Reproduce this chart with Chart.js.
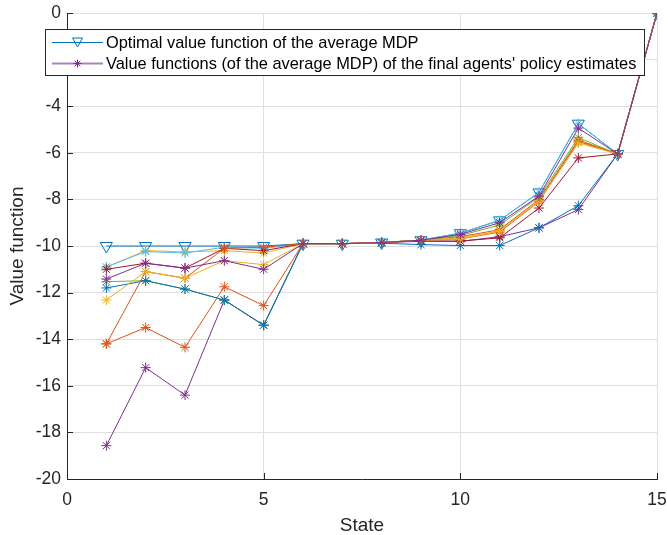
<!DOCTYPE html>
<html>
<head>
<meta charset="utf-8">
<script src="https://cdn.jsdelivr.net/npm/chart.js@4/dist/chart.umd.min.js"></script>
<style>
  html, body { margin: 0; padding: 0; background: #fff; }
</style>
</head>
<body>
<canvas id="valueChart" width="667" height="535"></canvas>
<script>
// x axis: states
const states = [1, 2, 3, 4, 5, 6, 7, 8, 9, 10, 11, 12, 13, 14, 15];

// optimal value function of the average MDP
const optimal = [-10, -10, -10, -10, -10, -9.9, -9.9, -9.85, -9.75, -9.45, -8.9, -7.7, -4.75, -6.05, 0];

// value functions of the final agents' policy estimates
const agentOrangeA = [-14.2, -13.5, -14.35, -11.75, -12.56, -9.9, -9.9, -9.85, -9.75, -9.6, -9.3, -8.0, -5.45, -6.05, 0];
const agentYellowA = [-10.9, -10.2, -10.25, -10.2, -10.3, -9.9, -9.9, -9.85, -9.75, -9.65, -9.35, -8.05, -5.55, -6.05, 0];
const agentPurpleA = [-18.57, -15.22, -16.4, -12.32, -13.4, -9.9, -9.9, -9.85, -9.8, -9.8, -9.6, -9.22, -8.44, -6.05, 0];
const agentGreen = [-11.53, -11.49, -11.85, -12.32, -13.4, -9.9, -9.9, -9.85, -9.75, -9.55, -9.1, -7.9, -5.35, -6.05, 0];
const agentLightBlue = [-10.9, -10.24, -10.3, -10.05, -10.1, -9.9, -9.9, -9.85, -9.75, -9.45, -8.9, -7.7, -4.75, -6.05, 0];
const agentDarkRed = [-11.0, -10.74, -10.95, -10.1, -10.2, -9.9, -9.9, -9.85, -9.78, -9.79, -9.65, -8.37, -6.22, -6.05, 0];
const agentBlue = [-11.8, -11.49, -11.85, -12.32, -13.4, -9.9, -9.9, -9.88, -9.94, -9.98, -9.98, -9.22, -8.27, -6.05, 0];
const agentOrangeB = [-14.2, -11.1, -11.38, -10.1, -10.05, -9.9, -9.9, -9.85, -9.75, -9.7, -9.4, -8.1, -5.5, -6.05, 0];
const agentYellowB = [-12.32, -11.1, -11.38, -10.63, -10.8, -9.9, -9.9, -9.85, -9.75, -9.7, -9.37, -8.08, -5.58, -6.05, 0];
const agentPurpleB = [-11.42, -10.74, -10.95, -10.63, -11.0, -9.9, -9.9, -9.85, -9.75, -9.5, -9.0, -7.86, -4.94, -6.05, 0];

const agents = [agentOrangeA, agentYellowA, agentPurpleA, agentGreen, agentLightBlue,
                agentDarkRed, agentBlue, agentOrangeB, agentYellowB, agentPurpleB];
const agentColors = ["#D95319", "#EDB120", "#7E2F8E", "#77AC30", "#4DBEEE",
                     "#A2142F", "#0072BD", "#D95319", "#EDB120", "#7E2F8E"];

const FONT = '"Liberation Sans", Arial, sans-serif';
const AXIS = "#262626";

function toPoints(vals) {
  return states.map((s, i) => ({ x: s, y: vals[i] }));
}

const datasets = [
  {
    label: "Optimal value function of the average MDP",
    data: toPoints(optimal),
    borderColor: "#0072BD",
    borderWidth: 1,
    pointStyle: "triangle",
    rotation: 180,
    pointRadius: 7,
    pointBorderWidth: 1,
    pointBorderColor: "#0072BD",
    pointBackgroundColor: "rgba(0,0,0,0)",
  },
];
agents.forEach((vals, i) => {
  datasets.push({
    label: "Value functions (of the average MDP) of the final agents' policy estimates",
    data: toPoints(vals),
    borderColor: agentColors[i],
    borderWidth: 1,
    pointStyle: "star",
    pointRadius: 5,
    pointBorderWidth: 1,
    pointBorderColor: agentColors[i],
    pointBackgroundColor: agentColors[i],
  });
});
// later lines on top, like the original plot
datasets.forEach((d, i) => { d.order = datasets.length - i; d.fill = false; d.tension = 0; });

// ticks pointing inwards
const innerTicks = {
  id: "innerTicks",
  beforeDatasetsDraw(chart) {
    const { ctx, chartArea, scales } = chart;
    ctx.save();
    ctx.strokeStyle = AXIS;
    ctx.lineWidth = 1;
    ctx.beginPath();
    scales.x.ticks.forEach((t) => {
      const px = Math.round(scales.x.getPixelForValue(t.value)) + 0.5;
      ctx.moveTo(px, chartArea.bottom);
      ctx.lineTo(px, chartArea.bottom - 6);
    });
    scales.y.ticks.forEach((t) => {
      const py = Math.round(scales.y.getPixelForValue(t.value)) + 0.5;
      ctx.moveTo(chartArea.left, py);
      ctx.lineTo(chartArea.left + 6, py);
    });
    ctx.stroke();
    ctx.restore();
  },
};

function drawStar(ctx, x, y, r) {
  const d = r * Math.SQRT1_2;
  ctx.beginPath();
  ctx.moveTo(x - r, y); ctx.lineTo(x + r, y);
  ctx.moveTo(x, y - r); ctx.lineTo(x, y + r);
  ctx.moveTo(x - d, y - d); ctx.lineTo(x + d, y + d);
  ctx.moveTo(x - d, y + d); ctx.lineTo(x + d, y - d);
  ctx.stroke();
}

function drawTriangleDown(ctx, x, y, w, h) {
  ctx.beginPath();
  ctx.moveTo(x - w / 2, y - h / 2);
  ctx.lineTo(x + w / 2, y - h / 2);
  ctx.lineTo(x, y + h / 2);
  ctx.closePath();
  ctx.stroke();
}

// legend box sitting inside the plot
const boxLegend = {
  id: "boxLegend",
  afterDraw(chart) {
    const ctx = chart.ctx;
    ctx.save();
    ctx.fillStyle = "#fff";
    ctx.fillRect(45.5, 29.5, 599, 46);
    ctx.strokeStyle = AXIS;
    ctx.lineWidth = 1;
    ctx.strokeRect(45.5, 29.5, 599, 46);

    // row 1
    ctx.strokeStyle = "#0072BD";
    ctx.beginPath();
    ctx.moveTo(52, 42.5); ctx.lineTo(103, 42.5);
    ctx.stroke();
    drawTriangleDown(ctx, 77.5, 42.5, 10, 9);

    // row 2
    ctx.strokeStyle = "#ad80c0";
    ctx.lineWidth = 2;
    ctx.beginPath();
    ctx.moveTo(52, 63.5); ctx.lineTo(103, 63.5);
    ctx.stroke();
    ctx.strokeStyle = "#7E2F8E";
    ctx.lineWidth = 1;
    drawStar(ctx, 77.5, 63.5, 4);

    ctx.fillStyle = "#000";
    ctx.font = "16.4px " + FONT;
    ctx.textBaseline = "middle";
    ctx.fillText(datasets[0].label, 106, 43);
    ctx.fillText(datasets[datasets.length - 1].label, 106, 64);
    ctx.restore();
  },
};

new Chart(document.getElementById("valueChart").getContext("2d"), {
  type: "line",
  data: { datasets: datasets },
  options: {
    responsive: false,
    animation: false,
    layout: { padding: { top: 13, right: 10, left: 0, bottom: 0 } },
    plugins: {
      legend: { display: false },
      tooltip: { enabled: false },
    },
    scales: {
      x: {
        type: "linear",
        min: 0,
        max: 15,
        ticks: {
          stepSize: 5,
          color: AXIS,
          padding: 11,
          maxRotation: 0,
          font: { size: 17.5, family: FONT },
        },
        grid: { color: "#dfdfdf", drawTicks: false },
        border: { color: AXIS, width: 1 },
        title: {
          display: true,
          text: "State",
          color: AXIS,
          font: { size: 19, family: FONT, lineHeight: 1 },
          padding: { top: 0, bottom: 0 },
        },
        afterFit(scale) {
          scale.height = 56;
          scale.paddingLeft = 0;
          scale.paddingRight = 0;
        },
      },
      y: {
        min: -20,
        max: 0,
        ticks: {
          stepSize: 2,
          color: AXIS,
          padding: 6,
          font: { size: 17.5, family: FONT },
        },
        grid: { color: "#dfdfdf", drawTicks: false },
        border: { color: AXIS, width: 1 },
        title: {
          display: true,
          text: "Value function",
          color: AXIS,
          font: { size: 19, family: FONT, lineHeight: 1 },
          padding: { top: 8, bottom: 0 },
        },
        afterFit(scale) {
          scale.width = 67;
          scale.paddingTop = 0;
          scale.paddingBottom = 0;
        },
      },
    },
  },
  plugins: [innerTicks, boxLegend],
});
</script>
</body>
</html>
